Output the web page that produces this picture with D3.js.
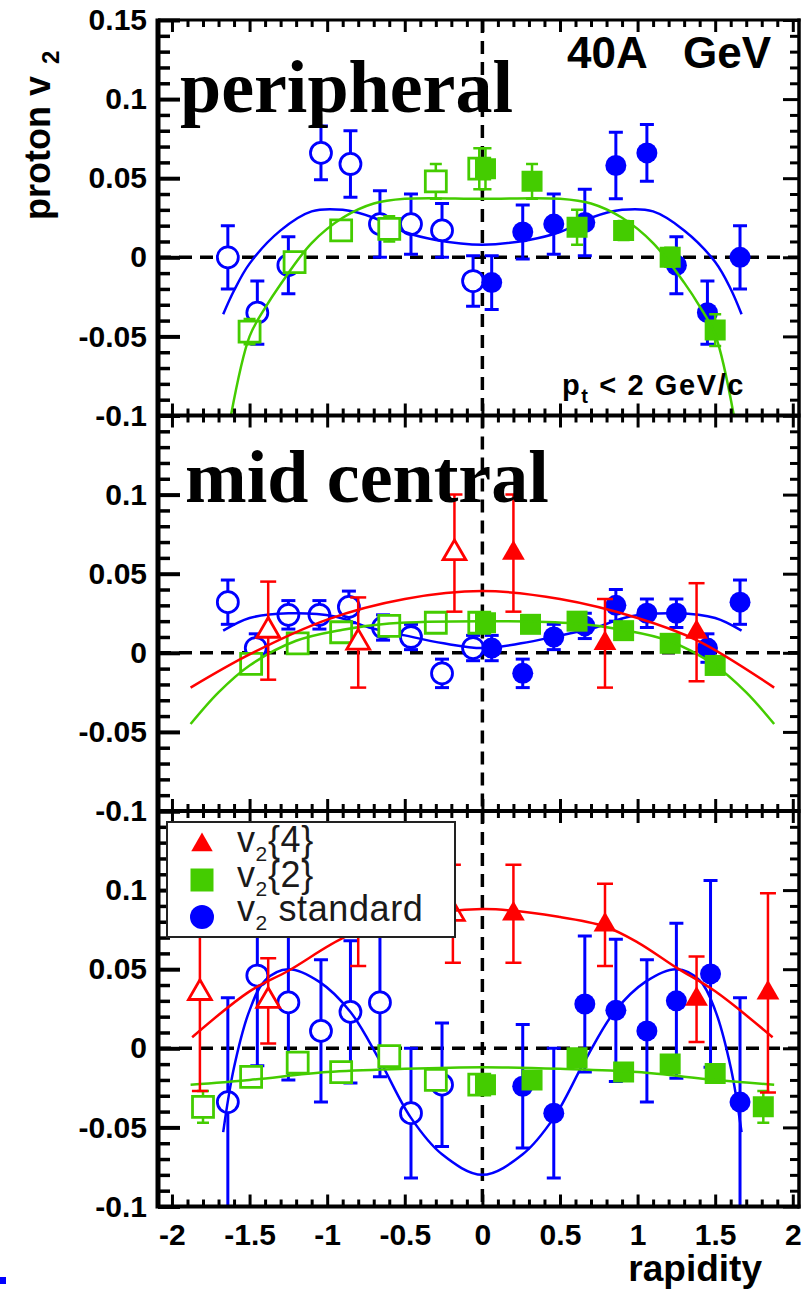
<!DOCTYPE html>
<html><head><meta charset="utf-8">
<script src="https://cdn.jsdelivr.net/npm/d3@7"></script>
<style>body{margin:0;background:#fff}svg{display:block}</style>
</head><body>
<svg id="c" width="806" height="1290"></svg>
<script>
// ---------- tick labels ----------
const xTickVals = [-2,-1.5,-1,-0.5,0,0.5,1,1.5,2];
const xTickLabels = ["-2","-1.5","-1","-0.5","0","0.5","1","1.5","2"];
const yTickValsTop = [0.15,0.1,0.05,0,-0.05,-0.1];
const yTickLabelsTop = ["0.15","0.1","0.05","0","-0.05","-0.1"];
const yTickValsLow = [0.1,0.05,0,-0.05,-0.1];
const yTickLabelsLow = ["0.1","0.05","0","-0.05","-0.1"];
const panelNames = ["peripheral","mid central",""];
const legendLabels = [["v","2","{4}"],["v","2","{2}"],["v","2"," standard"]];

// ---------- data: [rapidity, v2, error] ----------
// peripheral
const p1BlueOpen = [[-1.64,0.000,0.020],[-1.45,-0.035,0.020],[-1.25,-0.005,0.018],[-1.04,0.066,0.017],[-0.85,0.059,0.021],[-0.66,0.021,0.021],[-0.46,0.021,0.019],[-0.26,0.017,0.017],[-0.06,-0.015,0.016]];
const p1BlueFilled = [[0.06,-0.016,0.017],[0.26,0.016,0.017],[0.46,0.021,0.019],[0.66,0.022,0.021],[0.86,0.058,0.021],[1.06,0.066,0.018],[1.25,-0.005,0.018],[1.45,-0.035,0.020],[1.66,0.000,0.020]];
const p1GreenOpen = [[-1.50,-0.047,0.008],[-1.21,-0.003,0.006],[-0.91,0.017,0.006],[-0.60,0.018,0.008],[-0.30,0.048,0.011],[-0.02,0.056,0.013]];
const p1GreenFilled = [[0.02,0.056,0.013],[0.32,0.048,0.011],[0.61,0.019,0.011],[0.91,0.017,0.006],[1.21,0.000,0.006],[1.50,-0.046,0.010]];
const p1BlueFit = [[-1.67,-0.036],[-1.6,-0.021],[-1.5,-0.004],[-1.3,0.017],[-1.1,0.029],[-0.9,0.030],[-0.7,0.025],[-0.5,0.016],[-0.3,0.011],[0,0.008],[0.3,0.011],[0.5,0.016],[0.7,0.025],[0.9,0.030],[1.1,0.029],[1.3,0.017],[1.5,-0.003],[1.6,-0.020],[1.67,-0.036]];
const p1GreenFit = [[-1.62,-0.1],[-1.5,-0.050],[-1.4,-0.032],[-1.3,-0.017],[-1.1,0.009],[-0.9,0.025],[-0.7,0.034],[-0.5,0.037],[0,0.037],[0.5,0.037],[0.7,0.034],[0.9,0.025],[1.1,0.009],[1.3,-0.016],[1.4,-0.031],[1.5,-0.049],[1.62,-0.1]];

// mid central
const p2BlueOpen = [[-1.64,0.032,0.014],[-1.46,0.003,0.009],[-1.25,0.024,0.009],[-1.05,0.024,0.009],[-0.86,0.029,0.010],[-0.64,0.016,0.008],[-0.46,0.010,0.008],[-0.26,-0.013,0.009],[-0.06,0.003,0.008]];
const p2BlueFilled = [[0.06,0.003,0.008],[0.26,-0.013,0.009],[0.46,0.010,0.008],[0.66,0.017,0.008],[0.86,0.030,0.010],[1.06,0.025,0.009],[1.25,0.025,0.009],[1.45,0.003,0.009],[1.66,0.032,0.014]];
const p2GreenOpen = [[-1.49,-0.007,0.004],[-1.19,0.006,0.004],[-0.91,0.013,0.004],[-0.60,0.017,0.004],[-0.30,0.019,0.004],[-0.02,0.019,0.004]];
const p2GreenFilled = [[0.02,0.019,0.004],[0.31,0.018,0.004],[0.61,0.020,0.004],[0.91,0.014,0.004],[1.21,0.006,0.004],[1.50,-0.008,0.004]];
const p2RedOpen = [[-1.38,0.014,0.031],[-0.80,0.0065,0.0285],[-0.18,0.063,0.037]];
const p2RedFilled = [[0.20,0.063,0.037],[0.79,0.006,0.028],[1.38,0.013,0.031]];
const p2BlueFit = [[-1.67,0.014],[-1.5,0.022],[-1.25,0.025],[-0.95,0.023],[-0.73,0.016],[-0.5,0.011],[-0.25,0.006],[0,0.003],[0.25,0.006],[0.5,0.011],[0.73,0.016],[0.95,0.023],[1.25,0.025],[1.5,0.022],[1.67,0.014]];
const p2GreenFit = [[-1.88,-0.045],[-1.7,-0.025],[-1.5,-0.008],[-1.2,0.0076],[-0.9,0.0146],[-0.6,0.0185],[0,0.020],[0.6,0.0185],[0.9,0.0146],[1.2,0.0076],[1.5,-0.008],[1.7,-0.025],[1.88,-0.045]];
const p2RedFit = [[-1.88,-0.022],[-1.5,-0.001],[-1.0,0.021],[-0.5,0.034],[0,0.039],[0.5,0.034],[1.0,0.022],[1.38,0.008],[1.88,-0.022]];

// central (bottom)
const p3BlueOpen = [[-1.64,-0.034,0.066],[-1.45,0.046,0.057],[-1.25,0.029,0.049],[-1.04,0.011,0.045],[-0.85,0.023,0.045],[-0.66,0.029,0.047],[-0.46,-0.041,0.041],[-0.26,-0.023,0.039]];
const p3BlueFilled = [[0.26,-0.024,0.039],[0.46,-0.041,0.041],[0.66,0.028,0.043],[0.86,0.024,0.045],[1.06,0.011,0.045],[1.25,0.030,0.049],[1.47,0.047,0.059],[1.66,-0.034,0.066]];
const p3GreenOpen = [[-1.80,-0.037,0.010],[-1.49,-0.018,0.005],[-1.19,-0.009,0.005],[-0.91,-0.015,0.005],[-0.60,-0.005,0.005],[-0.30,-0.020,0.005],[-0.02,-0.023,0.005]];
const p3GreenFilled = [[0.02,-0.023,0.005],[0.32,-0.020,0.005],[0.61,-0.006,0.005],[0.91,-0.015,0.005],[1.21,-0.010,0.005],[1.50,-0.016,0.005],[1.81,-0.037,0.010]];
const p3RedOpen = [[-1.82,0.035,0.062],[-1.38,0.030,0.027],[-0.80,0.078,0.026],[-0.19,0.085,0.031]];
const p3RedFilled = [[0.20,0.085,0.031],[0.79,0.078,0.026],[1.38,0.031,0.027],[1.84,0.035,0.063]];
const p3BlueFit = [[-1.67,-0.053],[-1.6,-0.012],[-1.5,0.024],[-1.4,0.043],[-1.25,0.050],[-1.05,0.042],[-0.85,0.023],[-0.66,-0.008],[-0.46,-0.044],[-0.26,-0.067],[0,-0.080],[0.26,-0.067],[0.46,-0.044],[0.66,-0.008],[0.85,0.023],[1.05,0.042],[1.25,0.050],[1.4,0.043],[1.5,0.024],[1.6,-0.012],[1.67,-0.053]];
const p3GreenFit = [[-1.88,-0.023],[-1.5,-0.020],[-1.0,-0.015],[-0.5,-0.013],[0,-0.012],[0.5,-0.013],[1.0,-0.015],[1.5,-0.020],[1.88,-0.023]];
const p3RedFit = [[-1.87,0.007],[-1.5,0.036],[-1.25,0.049],[-0.87,0.071],[-0.5,0.082],[0,0.088],[0.5,0.083],[0.79,0.077],[1.0,0.067],[1.25,0.051],[1.5,0.036],[1.87,0.007]];

// ---------- layout ----------
const FL = 158, FR = 799, TOP0 = 20, PH = 395.5;
const COL = {blue:"#0000ff", green:"#44cc00", red:"#ff0000"};
const SANS = "'Liberation Sans', Arial, Helvetica, sans-serif";
const SERIF = "'Liberation Serif', 'Times New Roman', serif";
const svg = d3.select("#c");
svg.append("rect").attr("width",806).attr("height",1290).attr("fill","#fff");
const x = d3.scaleLinear().domain([-2.09, 2.04]).range([FL, FR]);

const panels = [
  {series:[
    {shape:"circle", color:COL.blue, open:p1BlueOpen, filled:p1BlueFilled, fit:p1BlueFit},
    {shape:"square", color:COL.green, open:p1GreenOpen, filled:p1GreenFilled, fit:p1GreenFit}],
   yVals:yTickValsTop, yLabels:yTickLabelsTop},
  {series:[
    {shape:"circle", color:COL.blue, open:p2BlueOpen, filled:p2BlueFilled, fit:p2BlueFit},
    {shape:"square", color:COL.green, open:p2GreenOpen, filled:p2GreenFilled, fit:p2GreenFit},
    {shape:"triangle", color:COL.red, open:p2RedOpen, filled:p2RedFilled, fit:p2RedFit}],
   yVals:yTickValsLow, yLabels:yTickLabelsLow},
  {series:[
    {shape:"circle", color:COL.blue, open:p3BlueOpen, filled:p3BlueFilled, fit:p3BlueFit},
    {shape:"square", color:COL.green, open:p3GreenOpen, filled:p3GreenFilled, fit:p3GreenFit},
    {shape:"triangle", color:COL.red, open:p3RedOpen, filled:p3RedFilled, fit:p3RedFit}],
   yVals:yTickValsLow, yLabels:yTickLabelsLow}
];

const symType = {circle:d3.symbolCircle, square:d3.symbolSquare, triangle:d3.symbolTriangle};
const symSize = {circle:Math.PI*10.5*10.5, square:21*21, triangle:225};
const errW = {circle:3, square:2.5, triangle:2.5};
const capW = {circle:14, square:12, triangle:16};

function drawPoints(g, y, data, shape, color, filled){
  const grp = g.append("g");
  const e = grp.selectAll("g.err").data(data).join("g").attr("class","err")
    .attr("stroke",color).attr("stroke-width",errW[shape]).attr("fill","none");
  e.append("line").attr("x1",d=>x(d[0])).attr("x2",d=>x(d[0]))
    .attr("y1",d=>y(d[1]-d[2])).attr("y2",d=>y(d[1]+d[2]));
  e.append("line").attr("x1",d=>x(d[0])-capW[shape]/2).attr("x2",d=>x(d[0])+capW[shape]/2)
    .attr("y1",d=>y(d[1]+d[2])).attr("y2",d=>y(d[1]+d[2]));
  e.append("line").attr("x1",d=>x(d[0])-capW[shape]/2).attr("x2",d=>x(d[0])+capW[shape]/2)
    .attr("y1",d=>y(d[1]-d[2])).attr("y2",d=>y(d[1]-d[2]));
  grp.selectAll("path.m").data(data).join("path").attr("class","m")
    .attr("d", d3.symbol().type(symType[shape]).size(symSize[shape]))
    .attr("transform",d=>`translate(${x(d[0])},${y(d[1])})`)
    .attr("fill", filled ? color : "#fff")
    .attr("stroke", color).attr("stroke-width", filled ? 0 : 2.8);
}

const line = (y)=>d3.line().x(d=>x(d[0])).y(d=>y(d[1])).curve(d3.curveCatmullRom.alpha(0.5));

const scales = [];
panels.forEach((p,i)=>{
  const top = TOP0 + i*PH, bot = top + PH;
  const y = d3.scaleLinear().domain([-0.1,0.15]).range([bot, top]);
  scales.push(y);
  const cid = "clip"+i;
  svg.append("clipPath").attr("id",cid).append("rect")
    .attr("x",FL).attr("y",top).attr("width",FR-FL).attr("height",PH);
  const d = svg.append("g").attr("clip-path",`url(#${cid})`);
  d.append("line").attr("x1",FL).attr("x2",FR).attr("y1",y(0)).attr("y2",y(0))
    .attr("stroke","#000").attr("stroke-width",3.5).attr("stroke-dasharray","13,8");
  d.append("line").attr("x1",x(0)).attr("x2",x(0)).attr("y1",top).attr("y2",bot)
    .attr("stroke","#000").attr("stroke-width",3.5).attr("stroke-dasharray","13,8");
  p.series.forEach(s=>{
    drawPoints(d, y, s.open, s.shape, s.color, false);
    drawPoints(d, y, s.filled, s.shape, s.color, true);
    d.append("path").datum(s.fit).attr("d", line(y))
      .attr("fill","none").attr("stroke",s.color).attr("stroke-width",2.5);
  });
});

// ---------- ticks & frame ----------
function axisG(ax, tx, ty, sw){
  const g = svg.append("g").attr("transform",`translate(${tx},${ty})`).call(ax.tickFormat(""));
  g.select(".domain").remove();
  g.selectAll("line").attr("stroke","#000").attr("stroke-width",sw);
}
const yMaj = [-0.1,-0.05,0,0.05,0.1,0.15];
const yMin = d3.range(-9,15).filter(k=>k%5!==0).map(k=>k/100);
const xMaj = xTickVals;
const xMin = d3.range(-20,21).filter(k=>k%5!==0).map(k=>k/10);

panels.forEach((p,i)=>{
  const y = scales[i], top = TOP0 + i*PH, bot = top + PH;
  axisG(d3.axisRight(y).tickValues(yMaj).tickSize(22), FL, 0, 4);
  axisG(d3.axisRight(y).tickValues(yMin).tickSize(12), FL, 0, 3.5);
  axisG(d3.axisLeft(y).tickValues(yMaj).tickSize(16), FR, 0, 3);
  axisG(d3.axisLeft(y).tickValues(yMin).tickSize(9), FR, 0, 3);
  axisG(d3.axisBottom(x).tickValues(xMaj).tickSize(12), 0, top, 3);
  axisG(d3.axisBottom(x).tickValues(xMin).tickSize(7), 0, top, 3);
  axisG(d3.axisTop(x).tickValues(xMaj).tickSize(12), 0, bot, 3);
  axisG(d3.axisTop(x).tickValues(xMin).tickSize(7), 0, bot, 3);
  const lg = svg.append("g").attr("transform",`translate(${FL},0)`)
    .call(d3.axisLeft(y).tickValues(p.yVals).tickSize(0).tickPadding(11)
      .tickFormat((v,k)=>p.yLabels[k]));
  lg.select(".domain").remove();
  lg.attr("font-family",SANS).attr("font-size",30).attr("font-weight","bold");
  lg.selectAll("text").attr("fill","#000");
});

// frame lines
const frame = svg.append("g").attr("stroke","#000").attr("fill","none");
const yBottom = TOP0 + 3*PH;
frame.append("line").attr("x1",FL).attr("x2",FL).attr("y1",TOP0-1.5).attr("y2",yBottom+2).attr("stroke-width",5);
frame.append("line").attr("x1",FR).attr("x2",FR).attr("y1",TOP0-1.5).attr("y2",yBottom+2).attr("stroke-width",3.5);
[0,1,2,3].forEach(k=>{
  frame.append("line").attr("x1",FL).attr("x2",FR+1.5).attr("y1",TOP0+k*PH).attr("y2",TOP0+k*PH)
    .attr("stroke-width", k===0 ? 3 : 4);
});

// x labels
const xl = svg.append("g").attr("transform",`translate(0,${yBottom})`)
  .call(d3.axisBottom(x).tickValues(xTickVals).tickSize(0).tickPadding(17)
    .tickFormat((v,k)=>xTickLabels[k]));
xl.select(".domain").remove();
xl.attr("font-family",SANS).attr("font-size",30).attr("font-weight","bold");
xl.selectAll("text").attr("fill","#000");

svg.append("text").attr("x",762).attr("y",1281).attr("text-anchor","end")
  .attr("font-family",SANS).attr("font-size",37).attr("font-weight","bold").text("rapidity");

// y title
const yt = svg.append("text").attr("transform","translate(50,220) rotate(-90)")
  .attr("font-family",SANS).attr("font-size",36).attr("font-weight","bold");
yt.append("tspan").text("proton v");
yt.append("tspan").attr("dx",12).attr("dy",9).attr("font-size",24).text("2");

// panel names
svg.append("text").attr("x",180).attr("y",112).attr("font-family",SERIF)
  .attr("font-size",74).attr("font-weight","bold").text(panelNames[0]);
svg.append("text").attr("x",185).attr("y",502).attr("font-family",SERIF)
  .attr("font-size",74).attr("font-weight","bold").text(panelNames[1]);

// energy label
svg.append("text").attr("x",567).attr("y",68).attr("font-family",SANS)
  .attr("font-size",44).attr("font-weight","bold").text("40A");
svg.append("text").attr("x",771).attr("y",68).attr("text-anchor","end").attr("font-family",SANS)
  .attr("font-size",44).attr("font-weight","bold").text("GeV");

// pt label
const pt = svg.append("text").attr("x",562).attr("y",395).attr("font-family",SANS)
  .attr("font-size",29).attr("font-weight","bold").attr("letter-spacing",1.6);
pt.append("tspan").text("p");
pt.append("tspan").attr("dy",8).attr("font-size",20).text("t");
pt.append("tspan").attr("dy",-8).text(" < 2 GeV/c");

// ---------- legend ----------
const leg = svg.append("g");
leg.append("rect").attr("x",167).attr("y",822).attr("width",288).attr("height",115)
  .attr("fill","#fff").attr("stroke","#222").attr("stroke-width",2);
const legMarks = [
  {shape:"triangle", color:COL.red, size:200},
  {shape:"square", color:COL.green, size:23*23},
  {shape:"circle", color:COL.blue, size:Math.PI*12*12}];
const legY = [845, 880, 917];
const legBase = [852, 887, 921];
legMarks.forEach((m,k)=>{
  leg.append("path").attr("d", d3.symbol().type(symType[m.shape]).size(m.size))
    .attr("transform",`translate(202,${legY[k]})`).attr("fill",m.color);
  const t = leg.append("text").attr("x",237).attr("y",legBase[k]).attr("font-family",SANS)
    .attr("font-size",36).attr("fill","#1a1a1a").attr("letter-spacing",0.6);
  t.append("tspan").text(legendLabels[k][0]);
  t.append("tspan").attr("dy",9).attr("font-size",21).text(legendLabels[k][1]);
  t.append("tspan").attr("dy",-9).text(legendLabels[k][2]);
});

// small artifact at bottom-left corner
svg.append("rect").attr("x",0).attr("y",1277).attr("width",6).attr("height",7).attr("fill","#0000ff");
</script>
</body></html>
